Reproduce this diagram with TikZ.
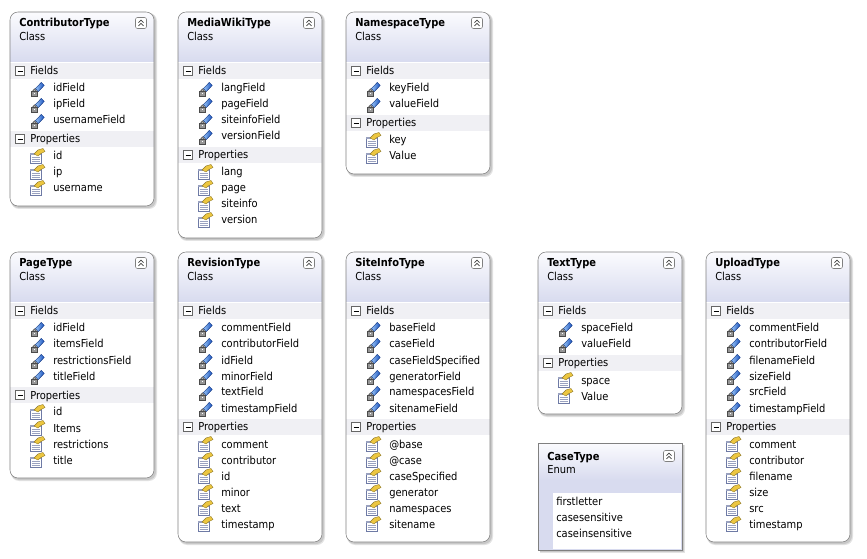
\documentclass[tikz,border=0pt]{standalone}
\usepackage{fontspec}
\setmainfont{DejaVu Sans Condensed}
\usetikzlibrary{calc}
\usetikzlibrary{positioning}
\definecolor{boxline}{RGB}{128,128,128}
\definecolor{headtop}{RGB}{251,251,254}
\definecolor{headbot}{RGB}{216,219,239}
\definecolor{bandgray}{RGB}{240,240,244}
\definecolor{shadowgray}{RGB}{200,200,200}
\definecolor{fieldblue}{RGB}{25,80,190}
\definecolor{fieldlight}{RGB}{150,195,245}
\definecolor{lockgray}{RGB}{150,150,150}
\definecolor{handyellow}{RGB}{236,198,64}
\definecolor{cardline}{RGB}{110,122,165}
\tikzset{
	classkind/.style={
		anchor=base west,
		inner sep=0pt,
		font=\fontsize{8.25}{10}\selectfont},
	classtitle/.style={classkind, font=\bfseries\fontsize{8.25}{10}\selectfont},
	membertext/.style={classkind},
	fieldicon/.pic={
		\shade[left color=fieldlight, right color=fieldblue, draw=fieldblue!70!black, line width=0.3pt]
			(-2.6,0.6) -- (3.3,-5.6) -- (6.3,-2.6) -- (0.2,3.6) -- cycle;
		\draw[lockgray!70!black, line width=0.9pt] (-5.2,3.0) arc[start angle=180, end angle=360, radius=1.7];
		\filldraw[fill=lockgray, draw=lockgray!50!black, line width=0.3pt] (-6.8,3.0) rectangle (-0.4,7.8);
		\fill[white] (-4.1,4.6) rectangle (-3.1,6.4);
	},
	propicon/.pic={
		\filldraw[fill=white, draw=cardline, line width=0.4pt] (-8,-3) rectangle (3,7);
		\fill[cardline!70] (-8,-3) rectangle (3,-1);
		\foreach \yy in {1.5,3.5,5.5}
			\draw[cardline!70, line width=0.4pt] (-6.5,\yy) -- (1.5,\yy);
		\filldraw[fill=handyellow, draw=handyellow!60!black, line width=0.3pt]
			(-4,-2) -- (0,-6) -- (5,-7.5) -- (7,-4.5) -- (3,-2.5) -- (0,0) -- cycle;
	},
	collapsebtn/.pic={
		\filldraw[fill=white, draw=boxline, rounded corners=1.5pt] (-5.5,-5.5) rectangle (5.5,5.5);
		\draw[black!75, line width=0.6pt]
			(-2.5,-0.4) -- (0,-2.9) -- (2.5,-0.4)
			(-2.5,2.9) -- (0,0.4) -- (2.5,2.9);
	},
	minusbox/.pic={
		\filldraw[fill=white, draw=boxline!80!black, line width=0.4pt] (-4.5,-4.5) rectangle (4.5,4.5);
		\draw[black, line width=0.6pt] (-2.5,0) -- (2.5,0);
	},
	pics/classframe/.style 2 args={code={
		\pgfmathsetmacro\boxh{98+16*(#1+#2)}
		\pgfmathsetmacro\propy{79+16*#1}
		\fill[shadowgray!50, rounded corners=6pt] (1,1) rectangle (147,\boxh+3);
		\fill[shadowgray, rounded corners=6pt] (1,1) rectangle (146,\boxh+2);
		\fill[white, rounded corners=6pt] (0,0) rectangle (144,\boxh);
		\begin{scope}
			\clip[rounded corners=6pt] (0,0) rectangle (144,\boxh);
			\shade[top color=headtop, bottom color=headbot] (0,0) rectangle (144,50);
			\fill[bandgray] (0,51) rectangle (144,67);
			\fill[bandgray] (0,\propy-8) rectangle (144,\propy+8);
		\end{scope}
		\draw[boxline, rounded corners=6pt] (0,0) rectangle (144,\boxh);
		\pic at (131,11) {collapsebtn};
		\pic at (10,59) {minusbox};
		\pic at (10,\propy) {minusbox};
	}},
}
\begin{document}
\begin{tikzpicture}[x=0.75pt, y=-0.75pt]
	\useasboundingbox (0,0) rectangle (867,559);
	% class boxes
	\foreach \cname/\cx/\cy/\ctitle/\nfld/\flist/\nprop/\plist in {
		contrib/10/12/ContributorType/3/{idField,ipField,usernameField}/3/{id,ip,username},
		mediawiki/178/12/MediaWikiType/4/{langField,pageField,siteinfoField,versionField}/4/{lang,page,siteinfo,version},
		namespace/346/12/NamespaceType/2/{keyField,valueField}/2/{key,Value},
		page/10/252/PageType/4/{idField,itemsField,restrictionsField,titleField}/4/{id,Items,restrictions,title},
		revision/178/252/RevisionType/6/{commentField,contributorField,idField,minorField,textField,timestampField}/6/{comment,contributor,id,minor,text,timestamp},
		siteinfo/346/252/SiteInfoType/6/{baseField,caseField,caseFieldSpecified,generatorField,namespacesField,sitenameField}/6/{@base,@case,caseSpecified,generator,namespaces,sitename},
		text/538/252/TextType/2/{spaceField,valueField}/2/{space,Value},
		upload/706/252/UploadType/6/{commentField,contributorField,filenameField,sizeField,srcField,timestampField}/6/{comment,contributor,filename,size,src,timestamp}}
	{
		\pic at (\cx,\cy) {classframe={\nfld}{\nprop}};
		\node[classtitle] (\cname) at (\cx+9,\cy+15) {\ctitle};
		\node[classkind] (\cname-kind) at (\cx+9,\cy+29) {Class};
		\node[classkind] (\cname-fh) at (\cx+20,\cy+63) {Fields};
		\node[classkind] (\cname-ph) at (\cx+20,\cy+83+16*\nfld) {Properties};
		\foreach \mbr [count=\i] in \flist {
			\pic at (\cx+28,\cy+60+16*\i) {fieldicon};
			\node[membertext] (\cname-f\i) at (\cx+43,\cy+64+16*\i) {\mbr};
		}
		\foreach \mbr [count=\i] in \plist {
			\pic at (\cx+28,\cy+80+16*\nfld+16*\i) {propicon};
			\node[membertext] (\cname-p\i) at (\cx+43,\cy+84+16*\nfld+16*\i) {\mbr};
		}
	}
	% enum box
	\fill[shadowgray!50] (540,445) rectangle (685,553);
	\fill[shadowgray] (540,445) rectangle (684,552);
	\shade[top color=headtop, bottom color=headbot] (538,443) rectangle (682,480);
	\fill[headbot] (538,480) rectangle (682,550);
	\fill[white] (553,493) rectangle (681,549);
	\draw[boxline] (538,443) rectangle (682,550);
	\pic at (669,456) {collapsebtn};
	\node[classtitle] (case) at (547,460) {CaseType};
	\node[classkind] (case-kind) at (547,473) {Enum};
	\foreach \mbr [count=\i] in {firstletter,casesensitive,caseinsensitive}
		\node[membertext] (case-v\i) at (556,489+16*\i) {\mbr};
\end{tikzpicture}
\end{document}
